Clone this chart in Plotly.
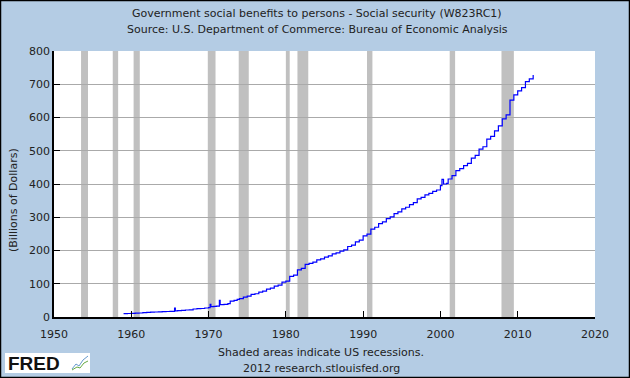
import plotly.graph_objects as go

# ---- data ----
years = [1959.0, 1959.5, 1960.0, 1960.5, 1961.0, 1961.5, 1962.0, 1962.5, 1963.0, 1963.5,
         1964.0, 1964.5, 1965.0, 1965.6, 1965.7, 1966.0, 1966.5, 1967.0, 1967.5, 1968.0,
         1968.5, 1969.0, 1969.5, 1970.0, 1970.2, 1970.3, 1970.7, 1971.0, 1971.4, 1971.5,
         1972.0, 1972.5, 1972.8, 1973.3, 1973.7, 1974.0, 1974.5, 1975.0, 1975.5, 1976.0,
         1976.5, 1977.0, 1977.5, 1978.0, 1978.5, 1979.0, 1979.5, 1980.0, 1980.5, 1981.0,
         1981.5, 1982.0, 1982.5, 1983.0, 1983.5, 1984.0, 1984.5, 1985.0, 1985.5, 1986.0,
         1986.5, 1987.0, 1987.5, 1988.0, 1988.5, 1989.0, 1989.5, 1990.0, 1990.5, 1991.0,
         1991.5, 1992.0, 1992.5, 1993.0, 1993.5, 1994.0, 1994.5, 1995.0, 1995.5, 1996.0,
         1996.5, 1997.0, 1997.5, 1998.0, 1998.5, 1999.0, 1999.5, 2000.0, 2000.2, 2000.4,
         2000.8, 2001.0, 2001.5, 2002.0, 2002.5, 2003.0, 2003.5, 2004.0, 2004.5, 2005.0,
         2005.5, 2006.0, 2006.5, 2007.0, 2007.5, 2008.0, 2008.5, 2009.0, 2009.5, 2010.0,
         2010.5, 2011.0, 2011.5, 2012.0]
values = [10, 10.5, 11, 11.5, 12, 13, 14, 14.5, 15, 15.5,
          16, 16.5, 17, 27, 18.5, 19, 20, 21, 21.5, 24,
          25, 25.5, 27, 28, 38, 31, 32, 33, 50, 37,
          38, 40, 48, 50, 53, 55, 60, 63, 68, 70,
          75, 78, 84, 87, 93, 96, 105, 108, 122, 126,
          142, 146, 158, 161, 165, 172, 175, 180, 184, 190,
          193, 198, 202, 212, 216, 226, 231, 244, 249, 264,
          270, 281, 286, 296, 301, 311, 316, 325, 330, 338,
          344, 355, 360, 367, 372, 378, 382, 395, 414, 400,
          402, 415, 425, 440, 446, 455, 462, 478, 486, 505,
          512, 535, 543, 560, 575, 596, 608, 652, 668, 680,
          690, 708, 716, 728]

recession_start = [1953.5, 1957.6, 1960.3, 1969.9, 1973.9, 1980.0, 1981.5, 1990.5, 2001.2, 2007.9]
recession_end = [1954.4, 1958.3, 1961.1, 1970.9, 1975.2, 1980.5, 1982.9, 1991.2, 2001.9, 2009.5]

x_ticks = [1950, 1960, 1970, 1980, 1990, 2000, 2010, 2020]
y_ticks = [0, 100, 200, 300, 400, 500, 600, 700, 800]

title1 = "Government social benefits to persons - Social security (W823RC1)"
title2 = "Source: U.S. Department of Commerce: Bureau of Economic Analysis"
y_title = "(Billions of Dollars)"
note1 = "Shaded areas indicate US recessions."
note2 = "2012 research.stlouisfed.org"

# ---- layout constants ----
W, H = 630, 378
L, R, T, B = 54, 35, 51, 61
PW, PH = W - L - R, H - T - B
FONT = "DejaVu Sans"
BG = "#B4CCE4"


def px_x(px):
    return (px - L) / PW


def px_y(py):
    return (H - B - py) / PH


fig = go.Figure()
fig.add_trace(go.Scatter(x=years, y=values, mode="lines", line=dict(color="#0000FF", width=1.2, shape="hv"),
                         hoverinfo="x+y", showlegend=False))

shapes = []
for s, e in zip(recession_start, recession_end):
    shapes.append(dict(type="rect", xref="x", yref="paper", x0=s, x1=e, y0=0, y1=1,
                       fillcolor="#C0C0C0", line=dict(width=0), layer="below"))

# outer border
shapes.append(dict(type="rect", xref="paper", yref="paper", x0=px_x(0.5), x1=px_x(W - 0.5),
                   y0=px_y(H - 0.5), y1=px_y(0.5), line=dict(color="#000000", width=1.5)))
# FRED logo box
shapes.append(dict(type="rect", xref="paper", yref="paper", x0=px_x(5), x1=px_x(90),
                   y0=px_y(373), y1=px_y(353), fillcolor="#FFFFFF", line=dict(width=0)))
# little chart icon in logo
shapes.append(dict(type="path", xref="paper", yref="paper",
                   path=f"M {px_x(72)},{px_y(369)} L {px_x(76)},{px_y(364)} L {px_x(79)},{px_y(366)} L {px_x(83)},{px_y(360)} L {px_x(88)},{px_y(356)}",
                   line=dict(color="#6699CC", width=1)))
shapes.append(dict(type="path", xref="paper", yref="paper",
                   path=f"M {px_x(72)},{px_y(370)} L {px_x(77)},{px_y(367)} L {px_x(80)},{px_y(368)} L {px_x(84)},{px_y(363)} L {px_x(88)},{px_y(361)}",
                   line=dict(color="#66AA44", width=1)))

annotations = [
    dict(text=title1, x=px_x(317), y=px_y(13), xref="paper", yref="paper", showarrow=False,
         xanchor="center", yanchor="middle", font=dict(family=FONT, size=11, color="#222222")),
    dict(text=title2, x=px_x(317), y=px_y(29), xref="paper", yref="paper", showarrow=False,
         xanchor="center", yanchor="middle", font=dict(family=FONT, size=11, color="#222222")),
    dict(text=y_title, x=px_x(13), y=px_y(200), xref="paper", yref="paper", showarrow=False,
         textangle=-90, xanchor="center", yanchor="middle", font=dict(family=FONT, size=11, color="#222222")),
    dict(text=note1, x=px_x(321), y=px_y(352), xref="paper", yref="paper", showarrow=False,
         xanchor="center", yanchor="middle", font=dict(family=FONT, size=11, color="#222222")),
    dict(text=note2, x=px_x(321), y=px_y(368), xref="paper", yref="paper", showarrow=False,
         xanchor="center", yanchor="middle", font=dict(family=FONT, size=11, color="#222222")),
    dict(text="<b>FRED</b>", x=px_x(6), y=px_y(363), xref="paper", yref="paper", showarrow=False,
         xanchor="left", yanchor="middle", font=dict(family="Liberation Sans", size=19, color="#111111")),
]

fig.update_layout(
    width=W, height=H,
    margin=dict(l=L, r=R, t=T, b=B, pad=0),
    paper_bgcolor=BG, plot_bgcolor="#FFFFFF",
    font=dict(family=FONT, size=11, color="#222222"),
    shapes=shapes, annotations=annotations,
    xaxis=dict(range=[1950, 2020], tickvals=x_ticks, ticks="inside", ticklen=6, tickcolor="#000000",
               showgrid=False, showline=True, linecolor="#000000", linewidth=1.5, zeroline=False,
               ticklabelstandoff=6,
               tickfont=dict(family=FONT, size=11, color="#222222")),
    yaxis=dict(range=[0, 800], tickvals=y_ticks, ticks="inside", ticklen=6, tickcolor="#000000",
               showgrid=True, gridcolor="#AAAAAA", gridwidth=1, showline=True, linecolor="#000000",
               linewidth=1.5, zeroline=False, tickfont=dict(family=FONT, size=11, color="#222222")),
)

fig.write_html("out.html", config={"displayModeBar": False},
               post_script="document.body.style.margin='0';document.body.style.overflow='hidden';")
